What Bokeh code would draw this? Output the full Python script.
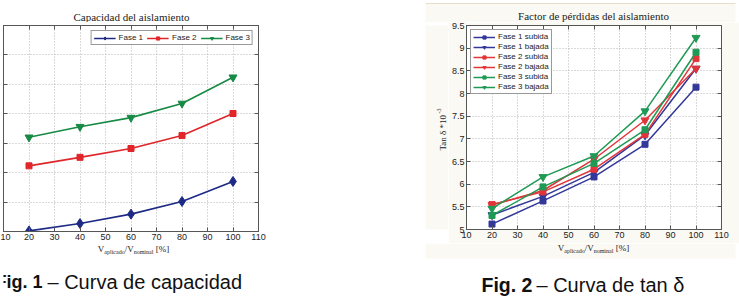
from bokeh.plotting import figure
from bokeh.layouts import row, column
from bokeh.models import (Range1d, FixedTicker, Label, Legend, LegendItem,
                          BoxAnnotation, LinearAxis, NumeralTickFormatter,
                          CustomJSTickFormatter)
from bokeh.embed import file_html
from bokeh.resources import INLINE

# ---- Fig. 1: capacidad del aislamiento ----
tension_pct = [20, 40, 60, 80, 100]
cap_fase1 = [2.02, 2.27, 2.59, 3.02, 3.70]
cap_fase2 = [4.23, 4.52, 4.82, 5.26, 6.01]
cap_fase3 = [5.20, 5.56, 5.87, 6.35, 7.24]
x_ticks = [10, 20, 30, 40, 50, 60, 70, 80, 90, 100, 110]
cap_ticks = [2, 3, 4, 5, 6, 7, 8, 9]

# ---- Fig. 2: factor de pérdidas (tan δ · 10^-3) ----
tan_f1_subida = [5.12, 5.63, 6.16, 6.88, 8.14]
tan_f1_bajada = [5.32, 5.73, 6.26, 7.08, 8.55]
tan_f2_subida = [5.55, 5.83, 6.33, 7.10, 8.77]
tan_f2_bajada = [5.54, 5.86, 6.55, 7.41, 8.55]
tan_f3_subida = [5.31, 5.94, 6.46, 7.20, 8.91]
tan_f3_bajada = [5.46, 6.16, 6.62, 7.61, 9.23]
tan_ticks = [5.0, 5.5, 6.0, 6.5, 7.0, 7.5, 8.0, 8.5, 9.0, 9.5]

SANS = "Liberation Sans"
SERIF = "Liberation Serif"
INK = "#222222"
FRAME = "#555555"
SHEET = "#fbf9f3"      # pale paper behind the second chart
SHEET_EDGE = "#e9dccb"

XR = (10, 110)
YR1 = (2, 9)
YR2 = (5, 9.5)

SERIF_EM = {"V": .722, "a": .444, "p": .5, "l": .278, "i": .278, "c": .444,
            "d": .5, "o": .5, "/": .278, "n": .5, "m": .778, " ": .25,
            "[": .333, "%": .833, "]": .333}


def blank_formatter():
    return CustomJSTickFormatter(code="return ''")


def text(p, x, y, s, font=SANS, size="9px", color=INK, align="left",
         baseline="middle", style="normal", angle=0):
    """Text placed in canvas pixels (origin at the top-left corner)."""
    p.add_layout(Label(x=x, y=y, x_units="canvas", y_units="canvas",
                       text=s, text_font=font, text_font_size=size,
                       text_color=color, text_align=align,
                       text_baseline=baseline, text_font_style=style,
                       angle=angle, angle_units="deg"))


def sheet(p, left, right, top, bottom, color=SHEET):
    p.add_layout(BoxAnnotation(left=left, right=right, top=top, bottom=bottom,
                               left_units="canvas", right_units="canvas",
                               top_units="canvas", bottom_units="canvas",
                               fill_color=color, fill_alpha=1,
                               line_color=None))


def text_panel(width, height):
    p = figure(width=width, height=height, x_range=Range1d(0, 1),
               y_range=Range1d(0, 1), x_axis_type=None, y_axis_type=None,
               output_backend="svg", toolbar_location=None, min_border=0)
    p.outline_line_color = None
    p.background_fill_color = "white"
    p.border_fill_color = "white"
    return p


def tick_only_axis(ticks):
    return LinearAxis(ticker=FixedTicker(ticks=ticks),
                      formatter=blank_formatter(),
                      major_label_standoff=0, major_tick_in=4,
                      major_tick_out=0, axis_line_color=None,
                      major_tick_line_color=FRAME,
                      minor_tick_line_color=None)


def chart(width, height, left, right, top, bottom, yr, yticks):
    p = figure(width=width, height=height, x_range=Range1d(*XR),
               y_range=Range1d(*yr), output_backend="svg",
               toolbar_location=None,
               min_border_left=left, min_border_right=right,
               min_border_top=top, min_border_bottom=bottom)
    p.outline_line_color = FRAME
    p.outline_line_width = 1
    p.background_fill_color = "white"
    p.border_fill_color = "white"

    p.xaxis.ticker = FixedTicker(ticks=x_ticks)
    p.yaxis.ticker = FixedTicker(ticks=yticks)
    p.xgrid.ticker = FixedTicker(ticks=x_ticks)
    p.ygrid.ticker = FixedTicker(ticks=yticks)
    p.grid.grid_line_color = "#b4b4b4"
    p.grid.grid_line_dash = "1 2"
    p.grid.grid_line_width = 1

    for ax in (p.xaxis, p.yaxis):
        ax.major_label_text_font = SANS
        ax.major_label_text_font_size = "9px"
        ax.major_label_text_color = INK
        ax.major_tick_in = 4
        ax.major_tick_out = 0
        ax.major_label_standoff = 2
        ax.minor_tick_line_color = None
        ax.axis_line_color = FRAME
        ax.major_tick_line_color = FRAME

    p.add_layout(tick_only_axis(x_ticks), "above")
    p.add_layout(tick_only_axis(yticks), "right")
    return p


def volt_ratio_label(p, cx, cy):
    parts = [("V", 9, 0), ("aplicado", 6, 3), ("/V", 9, 0),
             ("nominal", 6, 3), ("[%]", 9, 0)]
    gaps = [0, 0, 0, 0, 2.3]

    def w(t, s):
        return sum(SERIF_EM.get(c, 0.5) for c in t) * s
    total = sum(w(t, s) for t, s, _ in parts) + sum(gaps)
    x = cx - total / 2
    for (t, s, dy), g in zip(parts, gaps):
        x += g
        text(p, x, cy + dy, t, font=SERIF, size=f"{s}px")
        x += w(t, s)


def styled_legend(p, items, **kw):
    leg = Legend(items=items, label_text_font=SANS, label_text_font_size="8px",
                 label_text_color=INK, glyph_width=22, glyph_height=8,
                 label_height=8, label_standoff=3, padding=2,
                 border_line_color="#333333", border_line_width=0.8,
                 background_fill_color="white", background_fill_alpha=1, **kw)
    p.add_layout(leg)


# ================= Fig. 1 =================
W1 = 380
t1 = text_panel(W1, 22)
text(t1, 131, 16.5, "Capacidad del aislamiento", font=SERIF, size="11px",
     align="center")

c1 = chart(W1, 223, 3, 122, 3, 14, YR1, cap_ticks)
c1.left[0].formatter = blank_formatter()
c1.left[0].major_label_standoff = 0

BLUE1, RED1, GREEN1 = "#1d2a85", "#e0252b", "#178a45"
cap_series = [("Fase 1", cap_fase1, BLUE1, "diamond", 10),
              ("Fase 2", cap_fase2, RED1, "square", 6),
              ("Fase 3", cap_fase3, GREEN1, "inverted_triangle", 8)]
items1 = []
for name, ys, col, mk, sz in cap_series:
    ln = c1.line(tension_pct, ys, line_color=col, line_width=1.6)
    sc = c1.scatter(tension_pct, ys, marker=mk, size=sz, fill_color=col,
                    line_color=col)
    items1.append(LegendItem(label=name, renderers=[ln, sc]))
styled_legend(c1, items1, orientation="horizontal", location="top_right",
              margin=5, spacing=4)

b1 = text_panel(W1, 53)
volt_ratio_label(b1, 133, 3)
text(b1, 42, 36, "Fig. 1", size="18px", style="bold", align="right",
     color="#111111")
text(b1, 47, 36, "– Curva de capacidad", size="20px", color="#111111")

# ================= Fig. 2 =================
t2 = text_panel(359, 22)
sheet(t2, 45, 355, 3, 22)
sheet(t2, 45, 355, 2.5, 3.5, SHEET_EDGE)
text(t2, 213, 15, "Factor de pérdidas del aislamiento", font=SERIF,
     size="11px", align="center")

ylab2 = text_panel(68, 221)
sheet(ylab2, 45, 68, 0, 221)
# rotated y label: Tan δ *10^-3
text(ylab2, 62, 128, "Tan δ *10", font=SERIF, size="9px", angle=90)
text(ylab2, 58.5, 91, "-3", font=SERIF, size="6px", angle=90)

c2 = chart(291, 221, 16, 18, 3, 14, YR2, tan_ticks)
c2.border_fill_color = SHEET
c2.left[0].formatter = NumeralTickFormatter(format="0.[0]")

BLUE2, RED2, GREEN2 = "#33389a", "#e2353a", "#1f9a55"
tan_series = [("Fase 1 subida", tan_f1_subida, BLUE2, "square", 6),
              ("Fase 1 bajada", tan_f1_bajada, BLUE2, "inverted_triangle", 8),
              ("Fase 2 subida", tan_f2_subida, RED2, "square", 6),
              ("Fase 2 bajada", tan_f2_bajada, RED2, "inverted_triangle", 8),
              ("Fase 3 subida", tan_f3_subida, GREEN2, "square", 6),
              ("Fase 3 bajada", tan_f3_bajada, GREEN2, "inverted_triangle", 8)]
items2 = []
for name, ys, col, mk, sz in tan_series:
    ln = c2.line(tension_pct, ys, line_color=col, line_width=1.5)
    sc = c2.scatter(tension_pct, ys, marker=mk, size=sz, fill_color=col,
                    line_color=col)
    items2.append(LegendItem(label=name, renderers=[ln, sc]))
styled_legend(c2, items2, orientation="vertical", location="top_left",
              margin=4, spacing=1)

b2 = text_panel(359, 55)
sheet(b2, 45, 355, 0, 15)
volt_ratio_label(b2, 213, 4)
text(b2, 101, 41.5, "Fig. 2", size="19.5px", style="bold", color="#111111")
text(b2, 156, 41.5, "– Curva de tan δ", size="20px", color="#111111")

layout = row(column(t1, c1, b1),
             column(t2, row(ylab2, c2), b2))
open("out.html", "w").write(file_html(layout, INLINE))
